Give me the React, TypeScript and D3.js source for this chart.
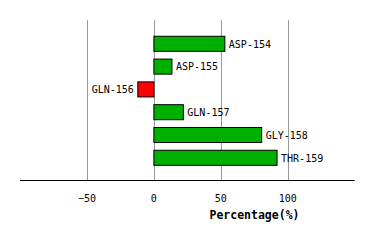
import React from "react";
import * as d3 from "d3";

const residues = ["ASP-154", "ASP-155", "GLN-156", "GLN-157", "GLY-158", "THR-159"];
const percentages = [53, 13.5, -12, 22, 80.5, 92];
const tickValues = [-50, 0, 50, 100];
const xTitle = "Percentage(%)";

export default function App() {
  const W = 374, H = 240;
  const x = d3.scaleLinear().domain([-100, 150]).range([20, 354.7]);
  const y = d3.scaleBand<string>().domain(residues).range([32.4, 169.2]).paddingInner(0.34).paddingOuter(0.17);
  const axisY = 180.5;
  const font = "'DejaVu Sans Mono', monospace";
  return (
    <svg width={W} height={H} style={{ position: "absolute", left: 0, top: 0, background: "#fff" }}>
      {tickValues.map((t) => (
        <line key={t} x1={Math.round(x(t)) + 0.5} x2={Math.round(x(t)) + 0.5} y1={20} y2={axisY} stroke="#999" strokeWidth={1} />
      ))}
      {residues.map((r, i) => {
        const v = percentages[i];
        const x0 = x(Math.min(0, v));
        const x1 = x(Math.max(0, v));
        const yy = y(r)!;
        const bh = y.bandwidth();
        return (
          <g key={r}>
            <rect x={x0} y={yy} width={x1 - x0} height={bh} fill={v >= 0 ? "#00b000" : "#ff0000"} stroke="#000" strokeWidth={1} />
            <text
              x={v >= 0 ? x1 + 4 : x0 - 4}
              y={yy + bh / 2 + 3.8}
              textAnchor={v >= 0 ? "start" : "end"}
              fontFamily={font}
              fontSize={10}
              fill="#000"
            >
              {r}
            </text>
          </g>
        );
      })}
      <line x1={20} x2={354.7} y1={axisY} y2={axisY} stroke="#000" strokeWidth={1} />
      {tickValues.map((t) => (
        <text key={t} x={x(t)} y={201.5} textAnchor="middle" fontFamily={font} fontSize={10} fill="#000">
          {t < 0 ? "\u2212" + Math.abs(t) : String(t)}
        </text>
      ))}
      <text x={254.5} y={219} textAnchor="middle" fontFamily={font} fontSize={11.5} fontWeight="bold" fill="#000">
        {xTitle}
      </text>
    </svg>
  );
}
